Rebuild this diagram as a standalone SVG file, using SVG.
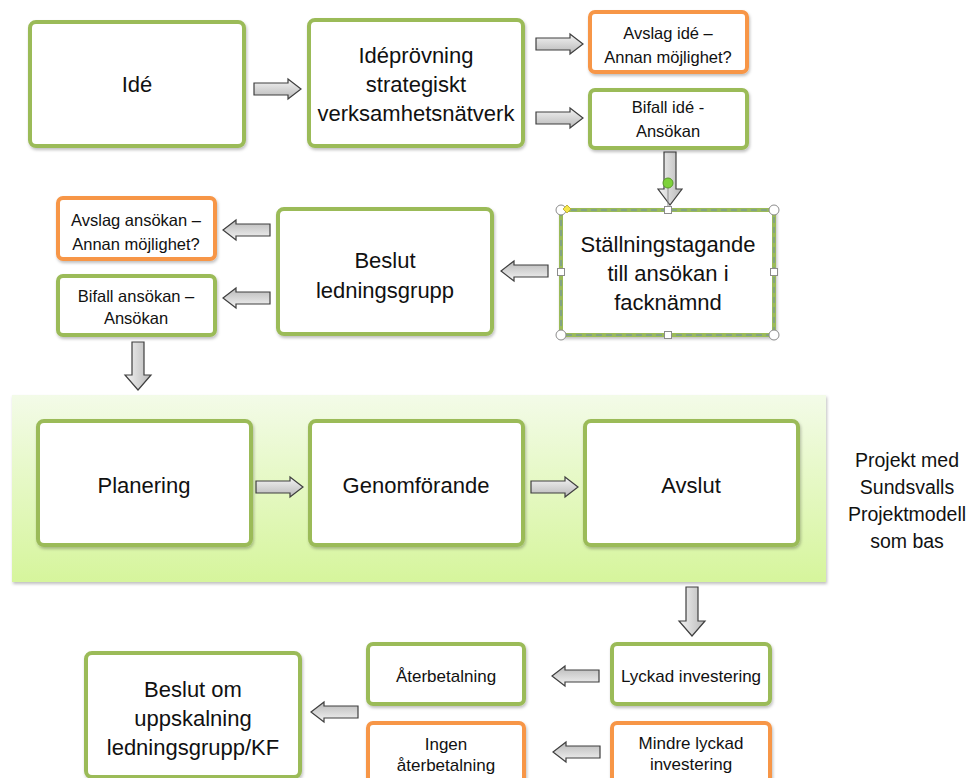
<svg xmlns="http://www.w3.org/2000/svg" width="973" height="778" viewBox="0 0 973 778">
<defs>
<linearGradient id="ag" x1="0" y1="0" x2="0" y2="1"><stop offset="0" stop-color="#f4f4f4"/><stop offset="1" stop-color="#b8b8b8"/></linearGradient>
<linearGradient id="agv" x1="0" y1="0" x2="1" y2="0"><stop offset="0" stop-color="#f4f4f4"/><stop offset="1" stop-color="#b8b8b8"/></linearGradient>
<linearGradient id="band" x1="0" y1="0" x2="0" y2="1"><stop offset="0" stop-color="#f3fbe8"/><stop offset="1" stop-color="#d6f59c"/></linearGradient>
<filter id="sh" x="-10%" y="-10%" width="120%" height="130%"><feDropShadow dx="1" dy="2" stdDeviation="1.5" flood-color="#000" flood-opacity="0.25"/></filter>
<path id="harr" d="M0,-6 H34 V-10 L47,0 L34,10 V6 H0 Z"/>
</defs>
<style>
.g{fill:#fff;stroke:#9bbb59;stroke-width:4;filter:url(#sh)}
.o{fill:#fff;stroke:#f79646;stroke-width:4;filter:url(#sh)}
.ah{fill:url(#ag);stroke:#3f3f3f;stroke-width:1.2}
.av{fill:url(#agv);stroke:#3f3f3f;stroke-width:1.2}
text{font-family:"Liberation Sans",Arial,sans-serif;fill:#111;text-anchor:middle}
.L{font-size:22px}
.S{font-size:16.5px}
.B{font-size:17px}
.hd{fill:#fff;stroke:#8c8c8c;stroke-width:1}
</style>

<rect x="12" y="395" width="814" height="187" fill="url(#band)" filter="url(#sh)"/>

<g id="connectors">
<use href="#harr" class="ah" transform="translate(254,89)"/>
<use href="#harr" class="ah" transform="translate(536,44)"/>
<use href="#harr" class="ah" transform="translate(536,118)"/>
<polygon class="av" points="664,152 676,152 676,189 682,189 670,205 658,189 664,189"/>
<use href="#harr" class="ah" transform="translate(548,271) rotate(180)"/>
<use href="#harr" class="ah" transform="translate(270,230) rotate(180)"/>
<use href="#harr" class="ah" transform="translate(270,298) rotate(180)"/>
<polygon class="av" points="132,342 144,342 144,375 151,375 138,390 125,375 132,375"/>
<use href="#harr" class="ah" transform="translate(256,487)"/>
<use href="#harr" class="ah" transform="translate(531,487)"/>
<polygon class="av" points="686,587 698,587 698,621 705,621 692,636 679,621 686,621"/>
<use href="#harr" class="ah" transform="translate(599,676) rotate(180)"/>
<use href="#harr" class="ah" transform="translate(600,752) rotate(180)"/>
<use href="#harr" class="ah" transform="translate(358,712) rotate(180)"/>
</g>

<g id="ide"><rect class="g" x="30" y="22" width="214" height="124" rx="6"/><text class="L" x="137" y="92">Idé</text></g>
<g id="ideprovning"><rect class="g" x="309" y="20" width="214" height="126" rx="6"/>
<text class="L" x="416" y="63">Idéprövning</text><text class="L" x="416" y="92">strategiskt</text><text class="L" x="416" y="121">verksamhetsnätverk</text></g>
<g id="avslag-ide"><rect class="o" x="590" y="12" width="157" height="60" rx="5"/>
<text class="S" x="668" y="39">Avslag  idé –</text><text class="S" x="668" y="63">Annan möjlighet?</text></g>
<g id="bifall-ide"><rect class="g" x="590" y="90" width="157" height="58" rx="5"/>
<text class="S" x="668" y="113">Bifall idé -</text><text class="S" x="668" y="137">Ansökan</text></g>

<g id="stallningstagande"><rect class="g" x="561" y="210" width="213" height="125" rx="2"/>
<rect x="561" y="210" width="213" height="125" fill="none" stroke="#6a8ab0" stroke-width="1" stroke-dasharray="6,4"/>
<text class="L" x="668" y="252">Ställningstagande</text><text class="L" x="668" y="281">till ansökan i</text><text class="L" x="668" y="310">facknämnd</text>
<line x1="668" y1="187" x2="668" y2="210" stroke="#8c8c8c" stroke-width="1"/>
<circle cx="668" cy="183" r="5" fill="#7ed23a" stroke="#5a9a2a" stroke-width="1"/>
<circle class="hd" cx="561" cy="210" r="5"/><circle class="hd" cx="774" cy="210" r="5"/>
<circle class="hd" cx="561" cy="335" r="5"/><circle class="hd" cx="774" cy="335" r="5"/>
<rect class="hd" x="664.5" y="206.5" width="7" height="7"/><rect class="hd" x="664.5" y="331.5" width="7" height="7"/>
<rect class="hd" x="557.5" y="268.5" width="7" height="7"/><rect class="hd" x="770.5" y="268.5" width="7" height="7"/>
<polygon points="567,205 571,209 567,213 563,209" fill="#f5e64a" stroke="#b5a52a" stroke-width="0.8"/>
</g>

<g id="beslut-ledningsgrupp"><rect class="g" x="278" y="209" width="214" height="125" rx="6"/>
<text class="L" x="385" y="268">Beslut</text><text class="L" x="385" y="298">ledningsgrupp</text></g>
<g id="avslag-ansokan"><rect class="o" x="58" y="198" width="157" height="61" rx="5"/>
<text class="S" x="136" y="226">Avslag  ansökan –</text><text class="S" x="136" y="250">Annan möjlighet?</text></g>
<g id="bifall-ansokan"><rect class="g" x="58" y="276" width="157" height="59" rx="5"/>
<text class="S" x="136" y="302">Bifall ansökan –</text><text class="S" x="136" y="324">Ansökan</text></g>

<g id="planering"><rect class="g" x="38" y="421" width="213" height="124" rx="6"/><text class="L" x="144" y="493">Planering</text></g>
<g id="genomforande"><rect class="g" x="310" y="421" width="213" height="124" rx="6"/><text class="L" x="416" y="493">Genomförande</text></g>
<g id="avslut"><rect class="g" x="585" y="421" width="213" height="124" rx="6"/><text class="L" x="691" y="493">Avslut</text></g>

<g id="projekt-label">
<text x="907" y="467" font-size="19.5">Projekt med</text>
<text x="907" y="494" font-size="19.5">Sundsvalls</text>
<text x="907" y="521" font-size="19.5">Projektmodell</text>
<text x="907" y="548" font-size="19.5">som bas</text>
</g>

<g id="lyckad"><rect class="g" x="612" y="644" width="158" height="60" rx="5"/><text class="B" x="691" y="682">Lyckad investering</text></g>
<g id="aterbetalning"><rect class="g" x="368" y="644" width="156" height="60" rx="5"/><text class="B" x="446" y="682">Återbetalning</text></g>
<g id="mindre-lyckad"><rect class="o" x="612" y="723" width="158" height="62" rx="5"/>
<text class="B" x="691" y="749">Mindre lyckad</text><text class="B" x="691" y="770">investering</text></g>
<g id="ingen-aterbetalning"><rect class="o" x="368" y="723" width="156" height="62" rx="5"/>
<text class="B" x="446" y="750">Ingen</text><text class="B" x="446" y="771">återbetalning</text></g>
<g id="beslut-uppskalning"><rect class="g" x="86" y="653" width="214" height="124" rx="6"/>
<text class="L" x="193" y="697">Beslut om</text><text class="L" x="193" y="726">uppskalning</text><text class="L" x="193" y="755">ledningsgrupp/KF</text></g>
</svg>
